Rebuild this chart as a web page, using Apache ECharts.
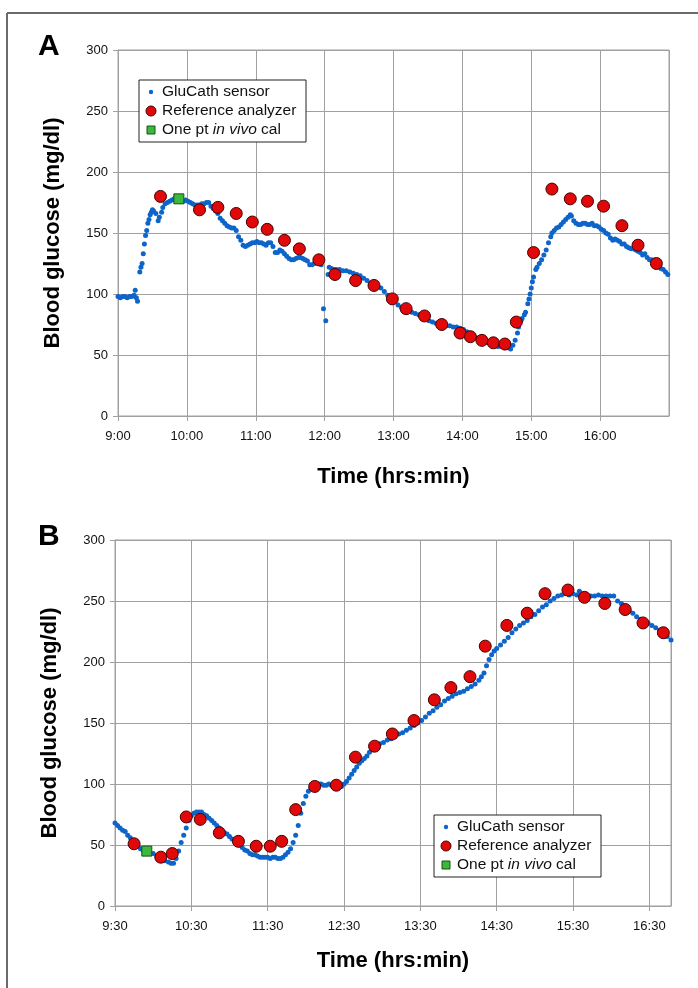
<!DOCTYPE html>
<html>
<head>
<meta charset="utf-8">
<script src="https://cdn.jsdelivr.net/npm/echarts@6/dist/echarts.min.js"></script>
<style>
html,body{margin:0;padding:0;background:#fff;}
#chart{width:698px;height:988px;}
</style>
</head>
<body>
<div id="chart"></div>
<script>
// ---- DATA ----
// Panel A: x = minutes after 9:00, y = blood glucose (mg/dl)
const yTicks = [0, 50, 100, 150, 200, 250, 300];
const xLabelsA = ['9:00','10:00','11:00','12:00','13:00','14:00','15:00','16:00'];
const xLabelsB = ['9:30','10:30','11:30','12:30','13:30','14:30','15:30','16:30'];

const sensorA = [
[0,98],[2,97],[4,98],[6,98],[8,97],[10,98],[12,98],[14,99],[15,103],[16,97],[17,94],
[19,118],[20,122],[21,125],[22,133],[23,141],[24,148],[25,152],[26,158],[27,161],[28,165],[29,167],[30,169],[31,168],[33,166],
[35,160],[36,163],[38,167],[39,171],[41,174],[43,175],[45,176],[47,177],[49,178],[51,177],[53,178],[55,176],[57,176],[59,177],
[61,176],[63,175],[65,174],[67,173],[69,173],[71,173],[73,174],[75,174],[77,175],[79,175],[81,172],[83,170],[85,168],[87,166],
[89,162],[91,160],[93,158],[95,156],[97,155],[99,154],[101,154],[103,152],[105,147],[107,144],[109,140],[111,139],[113,140],
[115,141],[117,142],[119,142],[121,143],[123,142],[125,142],[127,141],[129,140],[131,142],[133,142],[135,139],[137,134],[139,134],
[141,136],[143,135],[145,133],[147,131],[149,129],[151,128],[153,128],[155,129],[157,130],[159,130],[161,129],[163,128],[165,127],
[167,124],[169,124],[171,125],[173,127],[175,125],[177,124],[179,88],[181,78],[183,116],[184,122],[186,121],[188,120],[190,120],
[193,120],[196,119],[199,119],[202,118],[205,117],[208,116],[211,115],[214,113],[217,111],[220,108],[223,107],[226,106],[229,105],
[232,102],[235,99],[238,96],[241,94],[244,91],[247,89],[250,88],[253,87],[256,85],[259,84],[262,83],[265,82],[268,80],[271,78],
[274,77],[277,76],[280,75],[283,75],[286,74],[289,74],[292,73],[295,73],[298,72],[301,71],[304,69],[307,66],[310,65],[313,64],
[316,62],[319,61],[322,60],[325,59],[328,58],[331,57],[334,57],[337,56],[340,56],[342,55],[344,58],[346,62],[348,68],[349,73],
[351,78],[352,80],[354,83],[355,85],[357,92],[358,96],[359,100],[360,105],[361,110],[362,114],[364,120],[365,122],[367,125],
[369,128],[371,132],[373,136],[375,142],[377,147],[378,150],[380,152],[382,154],[384,155],[386,157],[388,159],[390,161],[392,163],
[394,165],[395,164],[397,160],[399,158],[401,157],[403,157],[405,158],[407,158],[409,157],[411,157],[413,158],[415,156],[417,156],
[419,155],[421,153],[423,152],[425,150],[427,149],[429,146],[431,144],[433,145],[435,144],[437,143],[439,141],[441,141],[443,139],
[445,138],[447,137],[449,137],[451,136],[453,135],[455,134],[457,132],[459,133],[461,130],[463,128],[465,128],[467,126],[469,124],
[471,123],[473,121],[475,120],[477,118],[479,116]
];
const referenceA = [
[37,180],[71,169],[87,171],[103,166],[117,159],[130,153],[145,144],[158,137],[175,128],[189,116],[207,111],[223,107],
[239,96],[251,88],[267,82],[282,75],[298,68],[307,65],[317,62],[327,60],[337,59],[347,77],[362,134],[378,186],[394,178],
[409,176],[423,172],[439,156],[453,140],[469,125]
];
const calA = [[53,178]];

// Panel B: x = minutes after 9:30
const sensorB = [
[0,68],[2,66],[4,64],[6,62],[8,61],[10,58],[12,56],[14,53],[16,51],[18,49],[20,47],[22,46],[24,45],[27,44],[30,43],[33,41],
[36,39],[39,37],[42,36],[44,35],[46,35],[48,39],[50,45],[52,52],[54,58],[56,64],[58,70],[60,74],[62,76],[64,77],[66,77],[68,77],
[70,75],[72,74],[74,72],[76,70],[78,68],[80,66],[82,64],[84,62],[86,60],[88,59],[90,57],[92,55],[94,54],[96,52],[98,50],[100,48],
[102,46],[104,45],[106,43],[108,42],[110,42],[112,41],[114,40],[116,40],[118,40],[120,40],[122,39],[124,40],[126,40],[128,39],
[130,39],[132,40],[134,42],[136,44],[138,47],[140,52],[142,58],[144,66],[146,76],[148,84],[150,90],[152,94],[154,97],[156,99],
[158,100],[160,100],[162,100],[164,99],[166,99],[168,100],[170,99],[172,98],[174,98],[176,98],[178,98],[180,100],[182,102],
[184,105],[186,108],[188,111],[190,114],[192,117],[194,119],[196,121],[198,123],[200,126],[202,128],[204,130],[206,132],[208,133],
[211,134],[214,136],[217,137],[220,139],[223,141],[226,142],[229,144],[232,146],[235,148],[238,150],[241,152],[244,155],[247,158],
[250,160],[253,163],[256,165],[259,168],[262,170],[265,172],[268,174],[271,175],[274,176],[277,178],[280,180],[283,182],[286,185],
[288,188],[290,191],[292,197],[294,202],[296,206],[298,209],[300,211],[303,214],[306,217],[309,220],[312,224],[315,227],[318,230],
[321,232],[324,234],[327,237],[330,239],[333,242],[336,245],[339,247],[342,250],[345,252],[348,254],[351,255],[354,256],[357,255],
[360,256],[363,255],[365,258],[368,255],[371,255],[374,254],[377,254],[380,255],[383,254],[386,254],[389,254],[392,254],[395,250],
[398,248],[401,244],[404,242],[407,240],[410,237],[413,235],[416,233],[419,232],[422,230],[425,228],[428,226],[431,224],[434,221],
[437,218]
];
const referenceB = [
[15,51],[36,40],[45,43],[56,73],[67,71],[82,60],[97,53],[111,49],[122,49],[131,53],[142,79],[157,98],[174,99],[189,122],
[204,131],[218,141],[235,152],[251,169],[264,179],[279,188],[291,213],[308,230],[324,240],[338,256],[356,259],[369,253],
[385,248],[401,243],[415,232],[431,224]
];
const calB = [[25,45]];

// ---- STYLE ----
const FONT = '"Liberation Sans", Arial, Helvetica, sans-serif';
const GRID_C = '#a0a0a0';
const BLUE = '#0d64c9';
const RED = '#e00808';
const RED_EDGE = '#4a0000';
const GREEN = '#3cb83c';
const GREEN_EDGE = '#175217';

function fmtA(v){ return xLabelsA[Math.round(v/60)] || ''; }
function fmtB(v){ return xLabelsB[Math.round(v/60)] || ''; }

function xAxisCfg(gridIndex, max, fmt, gap){
  return {
    type:'value', gridIndex, min:0, max, interval:60,
    axisLine:{show:true, lineStyle:{color:GRID_C}},
    axisTick:{show:true, length:5, lineStyle:{color:GRID_C}},
    splitLine:{show:true, lineStyle:{color:GRID_C, width:1}},
    axisLabel:{formatter:fmt, color:'#111', fontFamily:FONT, fontSize:13, margin:14, showMaxLabel:false},
    name:'Time (hrs:min)', nameLocation:'middle', nameGap:gap,
    nameTextStyle:{fontFamily:FONT, fontWeight:'bold', fontSize:22, color:'#000'}
  };
}
function yAxisCfg(gridIndex){
  return {
    type:'value', gridIndex, min:yTicks[0], max:yTicks[yTicks.length-1], interval:50,
    axisLine:{show:true, lineStyle:{color:GRID_C}},
    axisTick:{show:true, length:5, lineStyle:{color:GRID_C}},
    splitLine:{show:true, lineStyle:{color:GRID_C, width:1}},
    axisLabel:{color:'#111', fontFamily:FONT, fontSize:13, margin:10},
    name:'Blood glucose (mg/dl)', nameLocation:'middle', nameGap:54,
    nameTextStyle:{fontFamily:FONT, fontWeight:'bold', fontSize:22, color:'#000'}
  };
}

function seriesSet(idx, sensor, ref, cal){
  return [
    {type:'scatter', name:'GluCath sensor', xAxisIndex:idx, yAxisIndex:idx, data:sensor,
     symbol:'circle', symbolSize:5, itemStyle:{color:BLUE, opacity:1}, z:2, silent:true},
    {type:'scatter', name:'Reference analyzer', xAxisIndex:idx, yAxisIndex:idx, data:ref,
     symbol:'circle', symbolSize:12, itemStyle:{color:RED, borderColor:RED_EDGE, borderWidth:1, opacity:1}, z:3, silent:true},
    {type:'scatter', name:'One pt in vivo cal', xAxisIndex:idx, yAxisIndex:idx, data:cal,
     symbol:'rect', symbolSize:10, itemStyle:{color:GREEN, borderColor:GREEN_EDGE, borderWidth:1, opacity:1}, z:4, silent:true}
  ];
}

function legendBox(x, y){
  const fs = 15.5;
  const Z = 100;
  return {
    type:'group', x, y,
    children:[
      {type:'rect', z:Z, shape:{x:0,y:0,width:167,height:62}, style:{fill:'#fff', stroke:'#222', lineWidth:1}},
      {type:'circle', z:Z+1, shape:{cx:12,cy:12,r:2.2}, style:{fill:BLUE}},
      {type:'text', z:Z+1, x:23, y:12, style:{text:'GluCath sensor', verticalAlign:'middle', fontFamily:FONT, fontSize:fs, fill:'#111'}},
      {type:'circle', z:Z+1, shape:{cx:12,cy:31,r:5}, style:{fill:RED, stroke:RED_EDGE, lineWidth:1}},
      {type:'text', z:Z+1, x:23, y:31, style:{text:'Reference analyzer', verticalAlign:'middle', fontFamily:FONT, fontSize:fs, fill:'#111'}},
      {type:'rect', z:Z+1, shape:{x:8,y:46,width:8,height:8}, style:{fill:GREEN, stroke:GREEN_EDGE, lineWidth:1}},
      {type:'text', z:Z+1, x:23, y:50, style:{
        text:'{n|One pt }{i|in vivo}{n| cal}', verticalAlign:'middle', fontFamily:FONT, fontSize:fs, fill:'#111',
        rich:{n:{fontFamily:FONT,fontSize:fs,fill:'#111'}, i:{fontFamily:FONT,fontSize:fs,fontStyle:'italic',fill:'#111'}}
      }}
    ]
  };
}

const chart = echarts.init(document.getElementById('chart'), null, {renderer:'canvas'});
chart.setOption({
  animation:false,
  backgroundColor:'#fff',
  grid:[
    {left:118, top:50, width:551, height:366, show:true, borderColor:GRID_C, borderWidth:1, backgroundColor:'#fff'},
    {left:115, top:540, width:556, height:366, show:true, borderColor:GRID_C, borderWidth:1, backgroundColor:'#fff'}
  ],
  xAxis:[ xAxisCfg(0, 480, fmtA, 50), xAxisCfg(1, 437, fmtB, 44) ],
  yAxis:[ yAxisCfg(0), yAxisCfg(1) ],
  series:[].concat(seriesSet(0, sensorA, referenceA, calA), seriesSet(1, sensorB, referenceB, calB)),
  graphic:[
    {type:'line', shape:{x1:7,y1:13,x2:698,y2:13}, style:{stroke:'#6a6a6a', lineWidth:2}, z:50},
    {type:'line', shape:{x1:7,y1:13,x2:7,y2:988}, style:{stroke:'#6a6a6a', lineWidth:2}, z:50},
    {type:'text', x:38, y:32, style:{text:'A', fontFamily:FONT, fontWeight:'bold', fontSize:30, fill:'#000'}, z:50},
    {type:'text', x:38, y:522, style:{text:'B', fontFamily:FONT, fontWeight:'bold', fontSize:30, fill:'#000'}, z:50},
    legendBox(139, 80),
    legendBox(434, 815)
  ]
});
</script>
</body>
</html>
